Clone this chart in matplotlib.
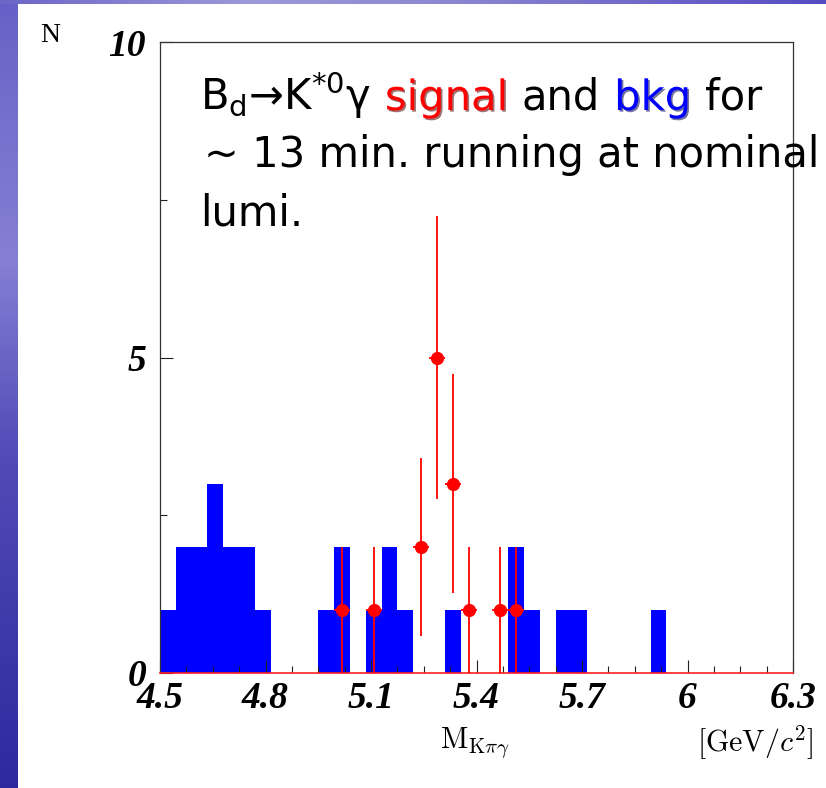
import numpy as np
import matplotlib
matplotlib.use("Agg")
import matplotlib.pyplot as plt
import matplotlib.patheffects as pe
from matplotlib.ticker import MultipleLocator

# binning of both histograms
x_min, x_max, n_bins = 4.5, 6.3, 40

# background (blue) counts per bin
bkg_counts = [1, 2, 2, 3, 2, 2, 1, 0, 0, 0,
              1, 2, 0, 1, 2, 1, 0, 0, 1, 0,
              0, 0, 2, 1, 0, 1, 1, 0, 0, 0,
              0, 1, 0, 0, 0, 0, 0, 0, 0, 0]

# signal (red points) counts per bin
sig_counts = [0, 0, 0, 0, 0, 0, 0, 0, 0, 0,
              0, 1, 0, 1, 0, 0, 2, 5, 3, 1,
              0, 1, 1, 0, 0, 0, 0, 0, 0, 0,
              0, 0, 0, 0, 0, 0, 0, 0, 0, 0]

x_ticks = [4.5, 4.8, 5.1, 5.4, 5.7, 6.0, 6.3]
x_tick_labels = ["4.5", "4.8", "5.1", "5.4", "5.7", "6", "6.3"]
y_ticks = [0, 5, 10]
y_tick_labels = ["0", "5", "10"]

W, H = 826, 788
fig = plt.figure(figsize=(W / 100, H / 100), dpi=100)

# slide background: white with purple strips on the left and top
bg = np.ones((H, W, 3))
rows = np.arange(H)
left_col = np.stack([
    np.interp(rows, [0, 120, 260, 450, 788], [0.40, 0.46, 0.52, 0.32, 0.18]),
    np.interp(rows, [0, 120, 260, 450, 788], [0.38, 0.44, 0.50, 0.30, 0.16]),
    np.interp(rows, [0, 120, 260, 450, 788], [0.78, 0.80, 0.83, 0.72, 0.62]),
], axis=1)
bg[:, :18, :] = left_col[:, None, :]
cols = np.arange(W)
top_row = np.stack([
    np.interp(cols, [0, 250, 450, 826], [0.42, 0.62, 0.55, 0.33]),
    np.interp(cols, [0, 250, 450, 826], [0.40, 0.60, 0.53, 0.30]),
    np.interp(cols, [0, 250, 450, 826], [0.78, 0.85, 0.82, 0.76]),
], axis=1)
bg[:4, :, :] = top_row[None, :, :]
ax_bg = fig.add_axes([0, 0, 1, 1], zorder=-10)
ax_bg.imshow(bg, aspect="auto", interpolation="bilinear")
ax_bg.axis("off")

ax = fig.add_axes([160 / W, 1 - 673 / H, 633 / W, 631 / H])

edges = np.linspace(x_min, x_max, n_bins + 1)
centers = 0.5 * (edges[:-1] + edges[1:])
half_bin = 0.5 * (edges[1] - edges[0])

ax.stairs(bkg_counts, edges, fill=True, color="#0000ff", linewidth=0)

sig = np.array(sig_counts, dtype=float)
mask = sig > 0
ax.errorbar(centers[mask], sig[mask], yerr=np.sqrt(sig[mask]), xerr=half_bin,
            fmt="o", color="#ff0000", ms=8.5, elinewidth=1.3, capsize=0, zorder=3)

ax.set_xlim(x_min, x_max)
ax.set_ylim(0, 10)

tick_font = dict(family="Liberation Serif", weight="bold", style="italic", size=27)
ax.set_xticks(x_ticks)
ax.set_xticklabels(x_tick_labels, fontdict=tick_font)
ax.set_yticks(y_ticks)
ax.set_yticklabels(y_tick_labels, fontdict=tick_font)
ax.xaxis.set_minor_locator(MultipleLocator(0.075))
ax.yaxis.set_minor_locator(MultipleLocator(2.5))
ax.tick_params(which="both", direction="in", top=False, right=False, width=0.8, color="#222222")
ax.tick_params(which="major", length=9.5)
ax.tick_params(which="minor", length=5)
ax.tick_params(axis="x", which="major", pad=6)
ax.tick_params(axis="y", which="major", pad=10)

for side in ["left", "top", "right"]:
    ax.spines[side].set_color("#333333")
    ax.spines[side].set_linewidth(0.9)
ax.spines["bottom"].set_color("#ff2020")
ax.spines["bottom"].set_linewidth(1.2)

# axis titles
fig.text(40 / W, 1 - 42 / H, "N", family="Liberation Serif", size=20,
         ha="left", va="baseline")
fig.text(475 / W, 1 - 749 / H, r"$\mathrm{M}_{\mathrm{K}\pi\gamma}$", size=21.5,
         math_fontfamily="cm", ha="center", va="baseline")
fig.text(813 / W, 1 - 743 / H, r"$[\mathrm{GeV}/c^{2}]$", size=21.5,
         math_fontfamily="cm", ha="right", va="center")

# annotation, built piece by piece for the coloured words
txt_font = dict(family="DejaVu Sans", size=30)
gap = 14
red_shadow = [pe.withSimplePatchShadow(offset=(1.2, -1.2), shadow_rgbFace="#500000", alpha=0.55)]
blue_shadow = [pe.withSimplePatchShadow(offset=(1.2, -1.2), shadow_rgbFace="#000050", alpha=0.55)]

y1 = (673 - 110) / 631
pieces = [
    (r"B$_\mathregular{d}$→K$^\mathregular{*0}$γ", "black", None),
    ("signal", "#ff0000", red_shadow),
    ("and", "black", None),
    ("bkg", "#0000ff", blue_shadow),
    ("for", "black", None),
]
prev = ax.text(40 / 633, y1, pieces[0][0], transform=ax.transAxes, color=pieces[0][1],
               ha="left", va="baseline", **txt_font)
for s, c, eff in pieces[1:]:
    prev = ax.annotate(s, xy=(1, y1), xycoords=(prev, "axes fraction"),
                       xytext=(gap, 0), textcoords="offset pixels",
                       ha="left", va="baseline", color=c, path_effects=eff, **txt_font)

ax.text(44 / 633, (673 - 167) / 631, "~ 13 min. running at nominal", transform=ax.transAxes,
        ha="left", va="baseline", clip_on=False, **txt_font)
ax.text(40 / 633, (673 - 225) / 631, "lumi.", transform=ax.transAxes,
        ha="left", va="baseline", **txt_font)

fig.savefig("out.png", dpi=100)
